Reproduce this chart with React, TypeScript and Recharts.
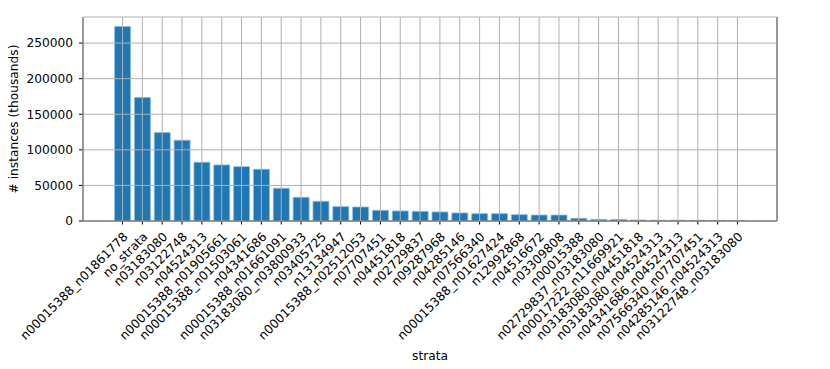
import { BarChart, Bar, XAxis, YAxis, CartesianGrid } from "recharts";

const strataLabels = [
  "n00015388_n01861778",
  "no_strata",
  "n03183080",
  "n03122748",
  "n04524313",
  "n00015388_n01905661",
  "n00015388_n01503061",
  "n04341686",
  "n00015388_n01661091",
  "n03183080_n03800933",
  "n03405725",
  "n13134947",
  "n00015388_n02512053",
  "n07707451",
  "n04451818",
  "n02729837",
  "n09287968",
  "n04285146",
  "n07566340",
  "n00015388_n01627424",
  "n12992868",
  "n04516672",
  "n03309808",
  "n00015388",
  "n02729837_n03183080",
  "n00017222_n11669921",
  "n03183080_n04451818",
  "n03183080_n04524313",
  "n04341686_n04524313",
  "n07566340_n07707451",
  "n04285146_n04524313",
  "n03122748_n03183080",
];

const instanceCounts = [
  273400, 173500, 124200, 113500, 82500, 78800, 76400, 72700, 46000, 33300,
  27700, 20200, 19700, 15000, 14100, 13600, 12700, 11300, 10300, 10300, 8900,
  8400, 8400, 3800, 2300, 2100, 1400, 1000, 1000, 900, 800, 700,
];

const yTicks = [0, 50000, 100000, 150000, 200000, 250000];

const data = strataLabels.map((name, i) => ({ name, count: instanceCounts[i] }));

const FONT = "'DejaVu Sans', sans-serif";

// rotated category labels, anchored at their end like matplotlib's ha="right"
const RotatedTick = ({ x, y, payload }: any) => (
  <g transform={`translate(${x + 6},${y + 11})`}>
    <text
      transform="rotate(-45)"
      textAnchor="end"
      fontSize={12.2}
      fontFamily={FONT}
      fill="#000"
    >
      {payload.value}
    </text>
  </g>
);

const App = () => {
  return (
    <div style={{ position: "absolute", left: 0, top: 0, background: "#fff" }}>
      <BarChart
        width={830}
        height={369}
        data={data}
        margin={{ top: 17, right: 43, bottom: 0, left: 0 }}
      >
        <XAxis
          dataKey="name"
          interval={0}
          height={148}
          padding={{ left: 29.6, right: 29.6 }}
          tick={<RotatedTick />}
          tickSize={3.5}
          tickLine={{ stroke: "#000" }}
          axisLine={{ stroke: "#000" }}
          label={({ viewBox }: any) => (
            <text
              x={viewBox.x + viewBox.width / 2}
              y={360}
              textAnchor="middle"
              fontSize={12.2}
              fontFamily={FONT}
              fill="#000"
            >
              strata
            </text>
          )}
        />
        {/* top spine */}
        <XAxis
          xAxisId="top"
          dataKey="name"
          orientation="top"
          height={0}
          tick={false}
          tickLine={false}
          axisLine={{ stroke: "#000" }}
        />
        <YAxis
          width={83}
          domain={[0, 286650]}
          ticks={yTicks}
          allowDataOverflow
          tickSize={4}
          tickMargin={6}
          tick={{ fontSize: 12.2, fontFamily: FONT, fill: "#000" }}
          tickLine={{ stroke: "#000" }}
          axisLine={{ stroke: "#000" }}
          label={({ viewBox }: any) => {
            const cx = 14;
            const cy = viewBox.y + viewBox.height / 2;
            return (
              <text
                x={cx}
                y={cy}
                transform={`rotate(-90, ${cx}, ${cy})`}
                textAnchor="middle"
                dominantBaseline="central"
                fontSize={12.2}
                fontFamily={FONT}
                fill="#000"
              >
                # instances (thousands)
              </text>
            );
          }}
        />
        {/* right spine */}
        <YAxis
          yAxisId="right"
          orientation="right"
          width={10}
          type="number"
          domain={[0, 286650]}
          ticks={yTicks}
          tick={false}
          tickLine={false}
          axisLine={{ stroke: "#000" }}
        />
        <Bar
          dataKey="count"
          fill="#1f77b4"
          stroke="#8fbbe0"
          strokeWidth={0.8}
          isAnimationActive={false}
        />
        <CartesianGrid stroke="#b0b0b0" strokeWidth={1} zIndex={1000} />
      </BarChart>
    </div>
  );
};

export default App;
